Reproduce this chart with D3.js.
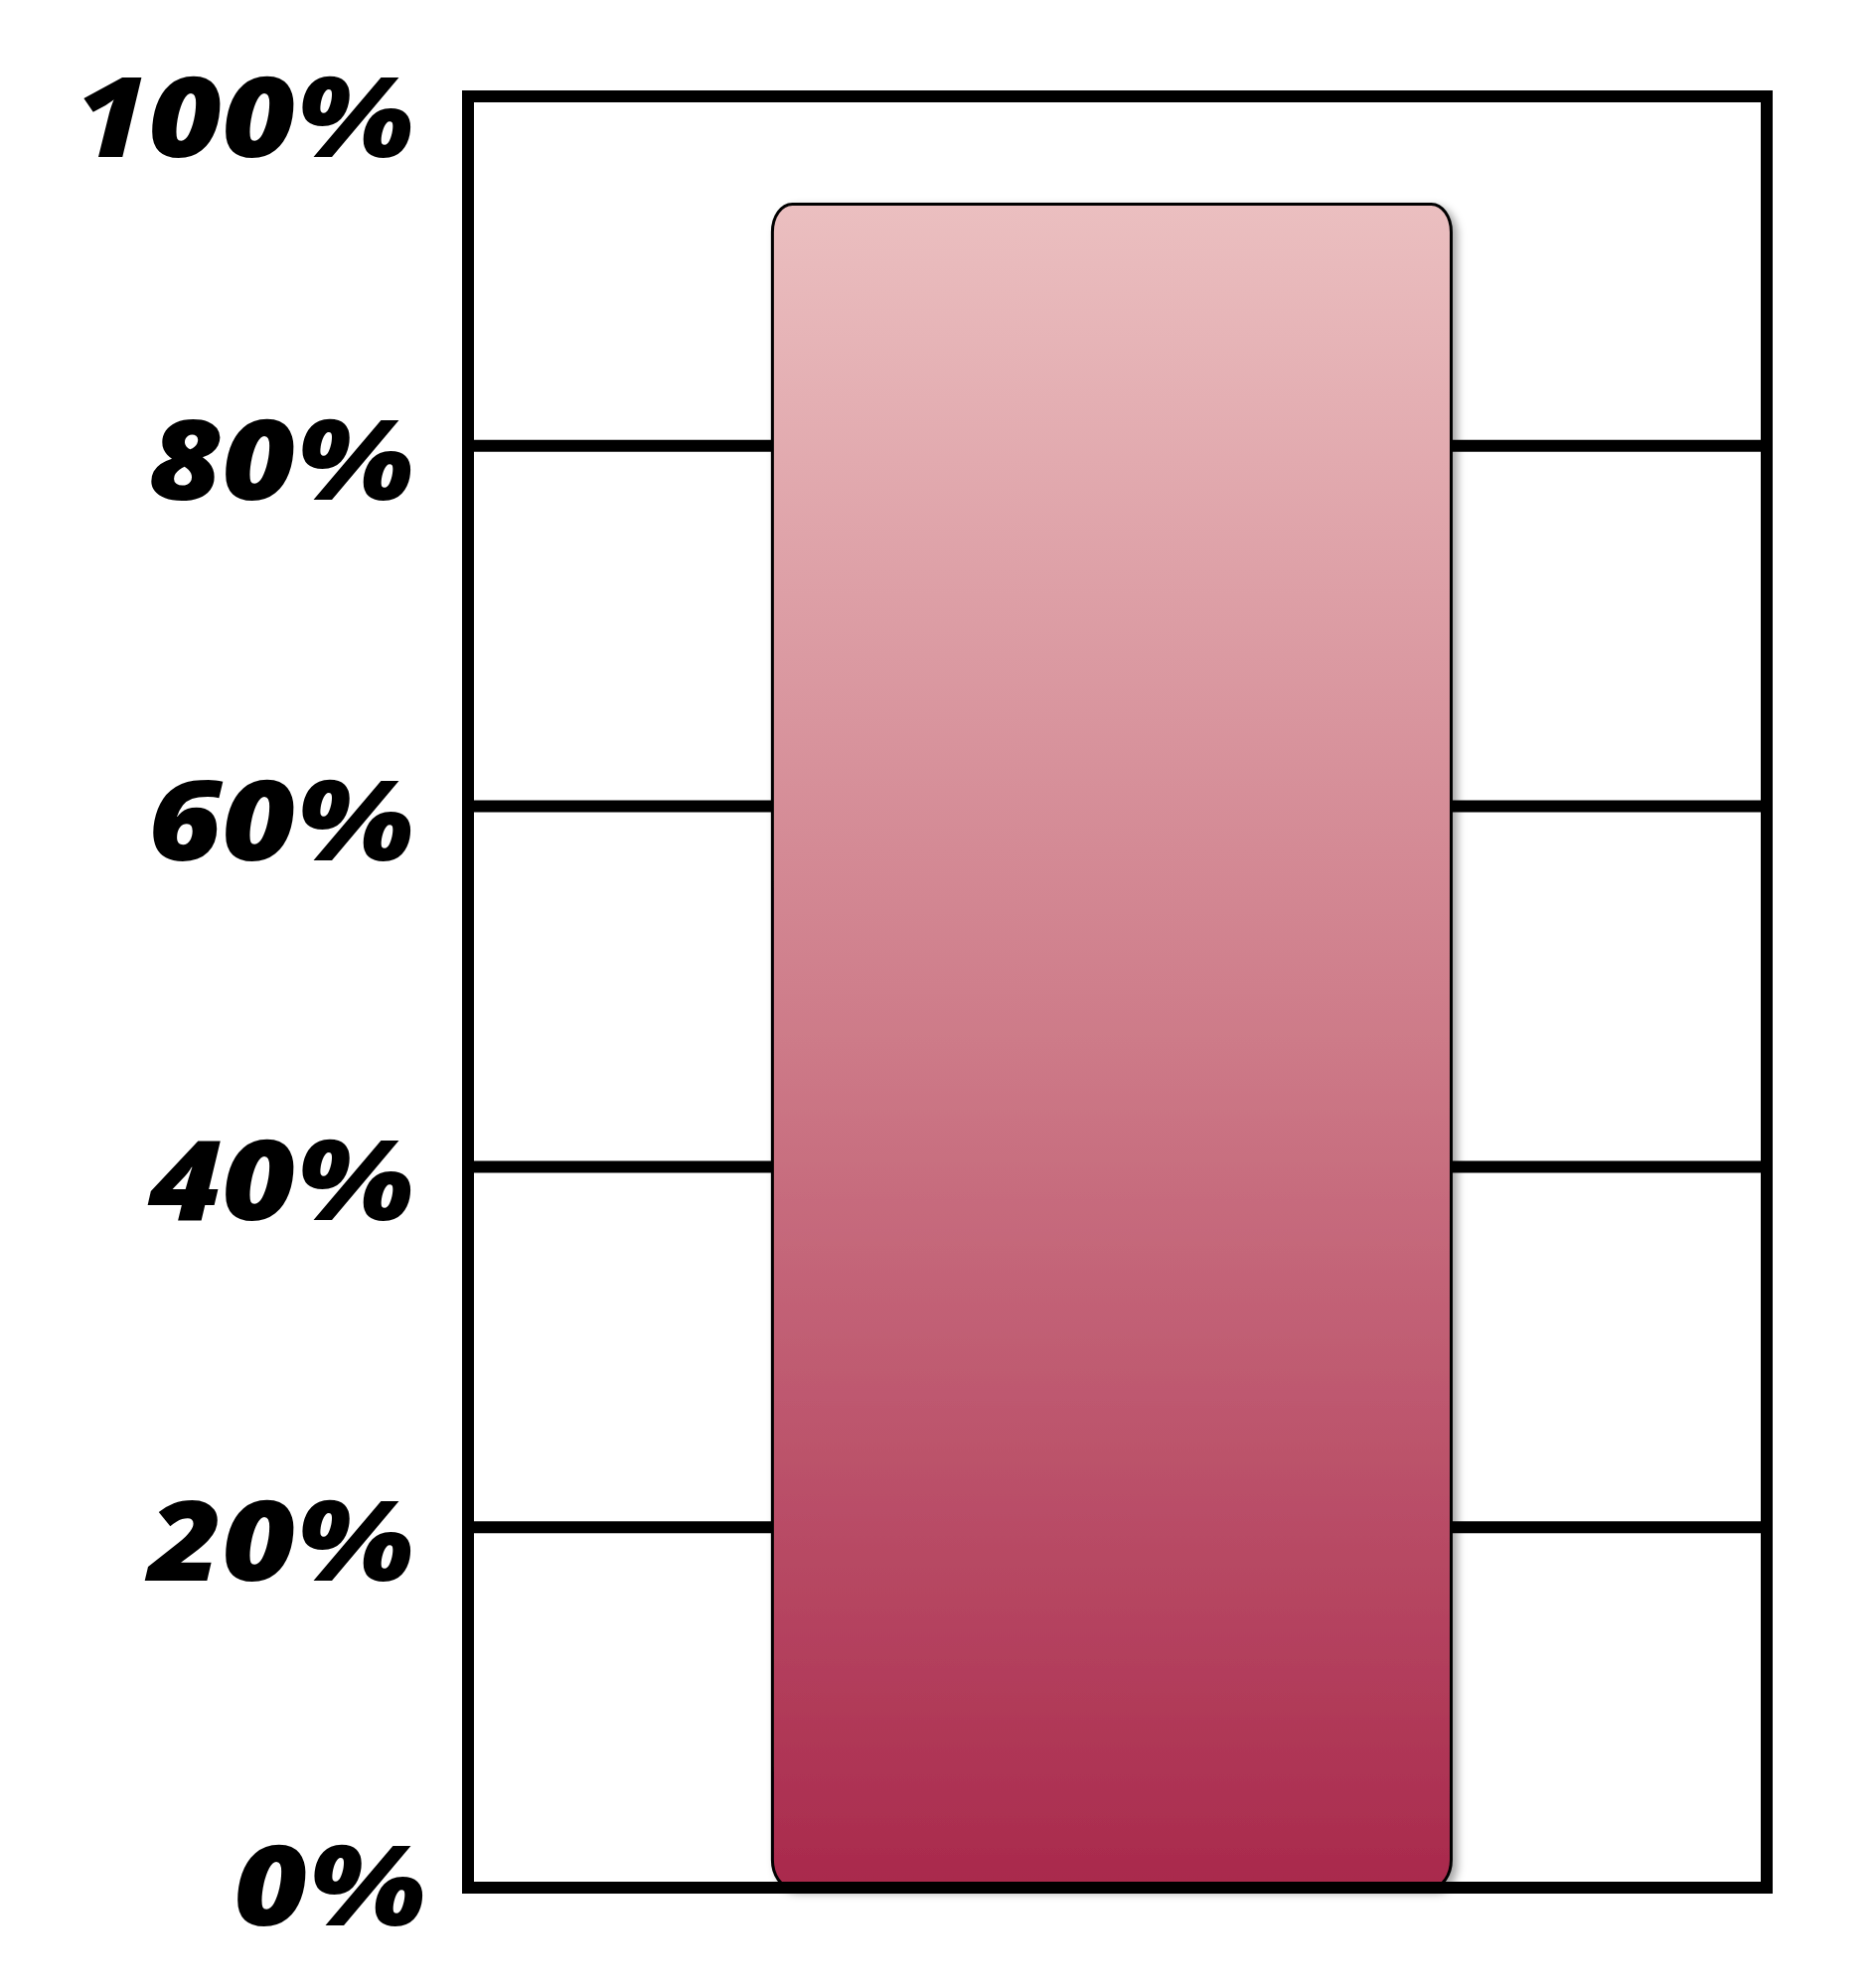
<!DOCTYPE html>
<html>
<head>
<meta charset="utf-8">
<script src="https://cdn.jsdelivr.net/npm/d3@7"></script>
<style>
  html, body { margin: 0; padding: 0; background: #ffffff; }
  svg { display: block; }
</style>
</head>
<body>
<script>
// ---- data ----
const categories = ["Share"];
const values = [93.5];
const tickValues = [0, 20, 40, 60, 80, 100];
const tickLabels = ["0%", "20%", "40%", "60%", "80%", "100%"];
const gridValues = [20, 40, 60, 80];

// ---- layout ----
const W = 1888, H = 2000;
const frameLeft = 471, frameRight = 1778, frameTop = 97, frameBottom = 1900;

const svg = d3.select("body").append("svg")
  .attr("width", W).attr("height", H);

const defs = svg.append("defs");
const grad = defs.append("linearGradient")
  .attr("id", "barGrad").attr("x1", 0).attr("y1", 0).attr("x2", 0).attr("y2", 1);
grad.append("stop").attr("offset", "0%").attr("stop-color", "#ebbfc0");
grad.append("stop").attr("offset", "50%").attr("stop-color", "#cd7a88");
grad.append("stop").attr("offset", "100%").attr("stop-color", "#a9294c");

const filt = defs.append("filter").attr("id", "shadow")
  .attr("x", "-10%").attr("y", "-10%").attr("width", "130%").attr("height", "130%");
filt.append("feDropShadow")
  .attr("dx", 5).attr("dy", 4).attr("stdDeviation", 4)
  .attr("flood-color", "#000").attr("flood-opacity", 0.35);

const y = d3.scaleLinear().domain([0, 100]).range([frameBottom, 86]);
const x = d3.scaleBand().domain(categories)
  .range([frameLeft, frameRight])
  .paddingInner(0).paddingOuter(0.4525).align(0.491);

// gridlines
svg.append("g").selectAll("line").data(gridValues).join("line")
  .attr("x1", frameLeft).attr("x2", frameRight)
  .attr("y1", d => y(d)).attr("y2", d => y(d))
  .attr("stroke", "#000").attr("stroke-width", 12);

// bar
svg.append("g").selectAll("rect").data(values).join("rect")
  .attr("x", (d, i) => x(categories[i]) + 1.5)
  .attr("width", x.bandwidth() - 3)
  .attr("y", d => y(d) + 1.5)
  .attr("height", d => y(0) - y(d) - 1.5)
  .attr("rx", 20).attr("ry", 28)
  .attr("fill", "url(#barGrad)")
  .attr("stroke", "#000").attr("stroke-width", 3)
  .attr("filter", "url(#shadow)");

// frame
svg.append("rect")
  .attr("x", frameLeft).attr("y", frameTop)
  .attr("width", frameRight - frameLeft).attr("height", frameBottom - frameTop)
  .attr("fill", "none").attr("stroke", "#000").attr("stroke-width", 12);

// tick labels
svg.append("g").selectAll("text").data(tickValues).join("text")
  .attr("transform", d => `translate(${d === 0 ? 428 : 416},${y(d) + (d === 100 ? 72 : d === 0 ? 38 : 54)}) scale(1.14,1)`)
  .attr("text-anchor", "end")
  .attr("font-family", "'Open Sans', 'Noto Sans', sans-serif")
  .attr("font-weight", 800)
  .attr("font-style", "italic")
  .attr("font-size", 112)
  .attr("fill", "#000")
  .text((d, i) => tickLabels[i]);
</script>
</body>
</html>
